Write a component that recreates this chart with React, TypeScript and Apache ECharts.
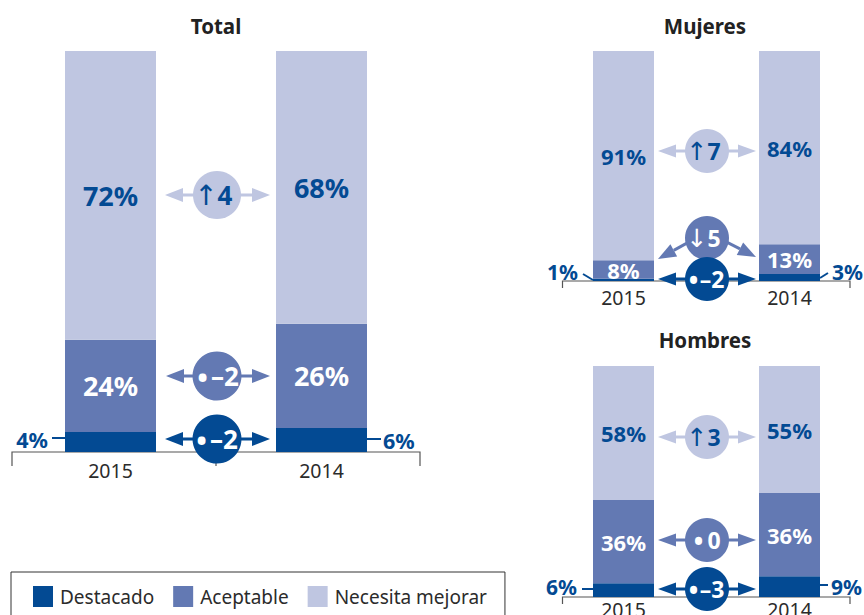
import React, { useEffect, useRef } from "react";
import * as echarts from "echarts";

const years = ["2015", "2014"];
const seriesNames = ["Destacado", "Aceptable", "Necesita mejorar"];

// Bar heights as drawn in the picture
const totalDestacado = [5, 6];
const totalAceptable = [23, 26];
const totalNecesita = [72, 68];
const mujeresDestacado = [1, 3];
const mujeresAceptable = [8, 13];
const mujeresNecesita = [91, 84];
const hombresDestacado = [6, 9];
const hombresAceptable = [36, 36];
const hombresNecesita = [58, 55];

// Percentages as printed in the picture
const totalPrinted = [[4, 6], [24, 26], [72, 68]];
const mujeresPrinted = [[1, 3], [8, 13], [91, 84]];
const hombresPrinted = [[6, 9], [36, 36], [58, 55]];

// Differences printed in the circles: Necesita mejorar, Aceptable, Destacado
const totalDiffs = [["↑", "4"], ["•", "–2"], ["•", "–2"]];
const mujeresDiffs = [["↑", "7"], ["↓", "5"], ["•", "–2"]];
const hombresDiffs = [["↑", "3"], ["•", "0"], ["•", "–3"]];

const DARK = "#034a93";
const MID = "#6379b3";
const LIGHT = "#bfc6e1";
const AXIS = "#555555";
const INK = "#2b2b2b";
const FONT = "Noto Sans";
const colors = [DARK, MID, LIGHT];

type Outer = { distance: number; offset: [number, number] };

function panelSeries(
  gridIndex: number,
  stack: string,
  heights: number[][],
  printed: number[][],
  barWidth: number,
  inFont: number,
  outFont: number,
  outer: Outer[]
) {
  return seriesNames.map((name, s) => ({
    type: "bar",
    name,
    stack,
    xAxisIndex: gridIndex,
    yAxisIndex: gridIndex,
    barWidth,
    clip: false,
    itemStyle: { color: colors[s] },
    data: heights[s].map((value, i) => ({
      value,
      label:
        s === 0
          ? {
              show: true,
              position: i === 0 ? "left" : "right",
              distance: outer[i].distance,
              offset: outer[i].offset,
              formatter: printed[s][i] + "%",
              color: DARK,
              fontFamily: FONT,
              fontWeight: "bold",
              fontSize: outFont,
            }
          : {
              show: true,
              position: "inside",
              formatter: printed[s][i] + "%",
              color: s === 2 ? DARK : "#ffffff",
              fontFamily: FONT,
              fontWeight: "bold",
              fontSize: inFont,
            },
    })),
  }));
}

function line(x1: number, y1: number, x2: number, y2: number, stroke: string, lineWidth: number) {
  return { type: "line", shape: { x1, y1, x2, y2 }, style: { stroke, lineWidth } };
}

function arrow(x1: number, y1: number, x2: number, y2: number, color: string, head: number, half: number) {
  const len = Math.hypot(x2 - x1, y2 - y1);
  const ux = (x2 - x1) / len;
  const uy = (y2 - y1) / len;
  const bx = x2 - ux * head;
  const by = y2 - uy * head;
  return [
    line(x1, y1, bx, by, color, 3),
    {
      type: "polygon",
      shape: {
        points: [
          [x2, y2],
          [bx - uy * half, by + ux * half],
          [bx + uy * half, by - ux * half],
        ],
      },
      style: { fill: color },
    },
  ];
}

function bracket(x1: number, x2: number, y: number, drop: number, midX?: number) {
  const out: any[] = [
    {
      type: "polyline",
      shape: { points: [[x1, y + drop], [x1, y], [x2, y], [x2, y + drop]] },
      style: { stroke: AXIS, lineWidth: 1.2, fill: "none" },
    },
  ];
  if (midX !== undefined) out.push(line(midX, y, midX, y + drop, AXIS, 1.2));
  return out;
}

function badge(
  cx: number,
  cy: number,
  r: number,
  fill: string,
  textColor: string,
  diff: string[],
  symX: number,
  numX: number,
  numSize: number
) {
  const label = (text: string, x: number, size: number, weight: string, family: string, dy: number) => ({
    type: "text",
    x,
    y: cy + dy,
    style: {
      text,
      fill: textColor,
      fontFamily: family,
      fontWeight: weight,
      fontSize: size,
      align: "center",
      verticalAlign: "middle",
    },
  });
  const isDot = diff[0] === "•";
  return [
    { type: "circle", shape: { cx, cy, r }, style: { fill } },
    isDot
      ? label(diff[0], cx + symX, numSize + 9, "normal", FONT, 0)
      : label(diff[0], cx + symX, numSize + 2, "normal", "DejaVu Sans", 0),
    label(diff[1], cx + numX, numSize, "bold", FONT, 0),
  ];
}

function row(
  cx: number,
  cy: number,
  r: number,
  xl: number,
  xr: number,
  fill: string,
  textColor: string,
  diff: string[],
  head: number,
  half: number,
  numSize: number,
  symX: number,
  numX: number
) {
  return [
    ...arrow(cx, cy, xl, cy, fill, head, half),
    ...arrow(cx, cy, xr, cy, fill, head, half),
    ...badge(cx, cy, r, fill, textColor, diff, symX, numX, numSize),
  ];
}

function titleAt(text: string, left: number, top: number) {
  return {
    text,
    left,
    top,
    textAlign: "center",
    padding: 0,
    textStyle: { color: "#222222", fontFamily: FONT, fontWeight: "bold", fontSize: 20.5 },
  };
}

function xAxisAt(gridIndex: number, margin: number) {
  return {
    type: "category",
    gridIndex,
    data: years,
    boundaryGap: false,
    axisLine: { show: false },
    axisTick: { show: false },
    axisLabel: { color: INK, fontFamily: FONT, fontSize: 19.5, margin, interval: 0 },
  };
}

function yAxisAt(gridIndex: number) {
  return { type: "value", gridIndex, min: 0, max: 100, show: false };
}

export default function App() {
  const ref = useRef<HTMLDivElement>(null);

  useEffect(() => {
    document.body.style.margin = "0";
    const chart = echarts.init(ref.current!, undefined, { renderer: "svg" });
    const gfx: any[] = [
      ...bracket(12, 420, 452, 14, 216),
      ...bracket(562.5, 850, 281, 7),
      ...bracket(562.5, 850, 597, 7),
      line(52, 438, 65, 438, DARK, 2),
      line(367, 439, 381, 439, DARK, 2),
      line(583, 274, 593, 280, DARK, 2),
      line(820, 278, 828, 273, DARK, 2),
      line(582, 589, 593, 589, DARK, 2),
      line(820, 585, 828, 585, DARK, 2),
      ...row(217, 195, 24, 165, 270, LIGHT, DARK, totalDiffs[0], 18, 7, 26, -11, 8),
      ...row(217, 376, 24.5, 166, 270, MID, "#ffffff", totalDiffs[1], 18, 7, 26, -14.5, 8),
      ...row(217, 439, 24.5, 165, 270, DARK, "#ffffff", totalDiffs[2], 18, 7, 26, -15.5, 7),
      ...row(707, 151, 22, 658, 756, LIGHT, DARK, mujeresDiffs[0], 18, 6.5, 23, -10, 7),
      ...arrow(707, 232, 658, 259, MID, 18, 7),
      ...arrow(707, 232, 756, 257, MID, 18, 7),
      ...badge(707, 238, 22, MID, "#ffffff", mujeresDiffs[1], -10, 7, 23),
      ...row(707, 279, 22, 658, 756, DARK, "#ffffff", mujeresDiffs[2], 18, 6.5, 23, -13.5, 5),
      ...row(707, 437, 22, 658, 756, LIGHT, DARK, hombresDiffs[0], 18, 6.5, 23, -10, 7),
      ...row(707, 540, 22, 658, 756, MID, "#ffffff", hombresDiffs[1], 18, 6.5, 23, -8.5, 7),
      ...row(707, 589, 22, 658, 756, DARK, "#ffffff", hombresDiffs[2], 18, 6.5, 23, -13.5, 5),
    ];
    chart.setOption({
      animation: false,
      backgroundColor: "#ffffff",
      title: [titleAt("Total", 216, 15), titleAt("Mujeres", 705, 15), titleAt("Hombres", 705, 329)],
      legend: {
        left: 11,
        top: 572,
        data: seriesNames,
        icon: "rect",
        itemWidth: 20,
        itemHeight: 21,
        itemGap: 19,
        padding: [14, 18, 14, 22],
        borderColor: "#333333",
        borderWidth: 1,
        selectedMode: false,
        textStyle: { color: INK, fontFamily: FONT, fontSize: 19, padding: [0, 0, 0, 2] },
      },
      grid: [
        { left: 110.5, top: 51, width: 211, height: 401, outerBoundsMode: "none" },
        { left: 623.5, top: 51, width: 166, height: 230, outerBoundsMode: "none" },
        { left: 623.5, top: 366, width: 166, height: 231, outerBoundsMode: "none" },
      ],
      xAxis: [xAxisAt(0, 8), xAxisAt(1, 6), xAxisAt(2, 2)],
      yAxis: [yAxisAt(0), yAxisAt(1), yAxisAt(2)],
      series: [
        ...panelSeries(0, "total", [totalDestacado, totalAceptable, totalNecesita], totalPrinted, 91, 27, 21.5, [
          { distance: 17, offset: [0, -2] },
          { distance: 16, offset: [0, 1] },
        ]),
        ...panelSeries(1, "mujeres", [mujeresDestacado, mujeresAceptable, mujeresNecesita], mujeresPrinted, 61, 22, 21, [
          { distance: 15, offset: [0, -8] },
          { distance: 12, offset: [0, -6] },
        ]),
        ...panelSeries(2, "hombres", [hombresDestacado, hombresAceptable, hombresNecesita], hombresPrinted, 61, 22, 21, [
          { distance: 16, offset: [0, -3] },
          { distance: 11, offset: [0, 0] },
        ]),
      ],
      graphic: { elements: gfx },
    });
    return () => chart.dispose();
  }, []);

  return <div ref={ref} style={{ width: 864, height: 615 }} />;
}
